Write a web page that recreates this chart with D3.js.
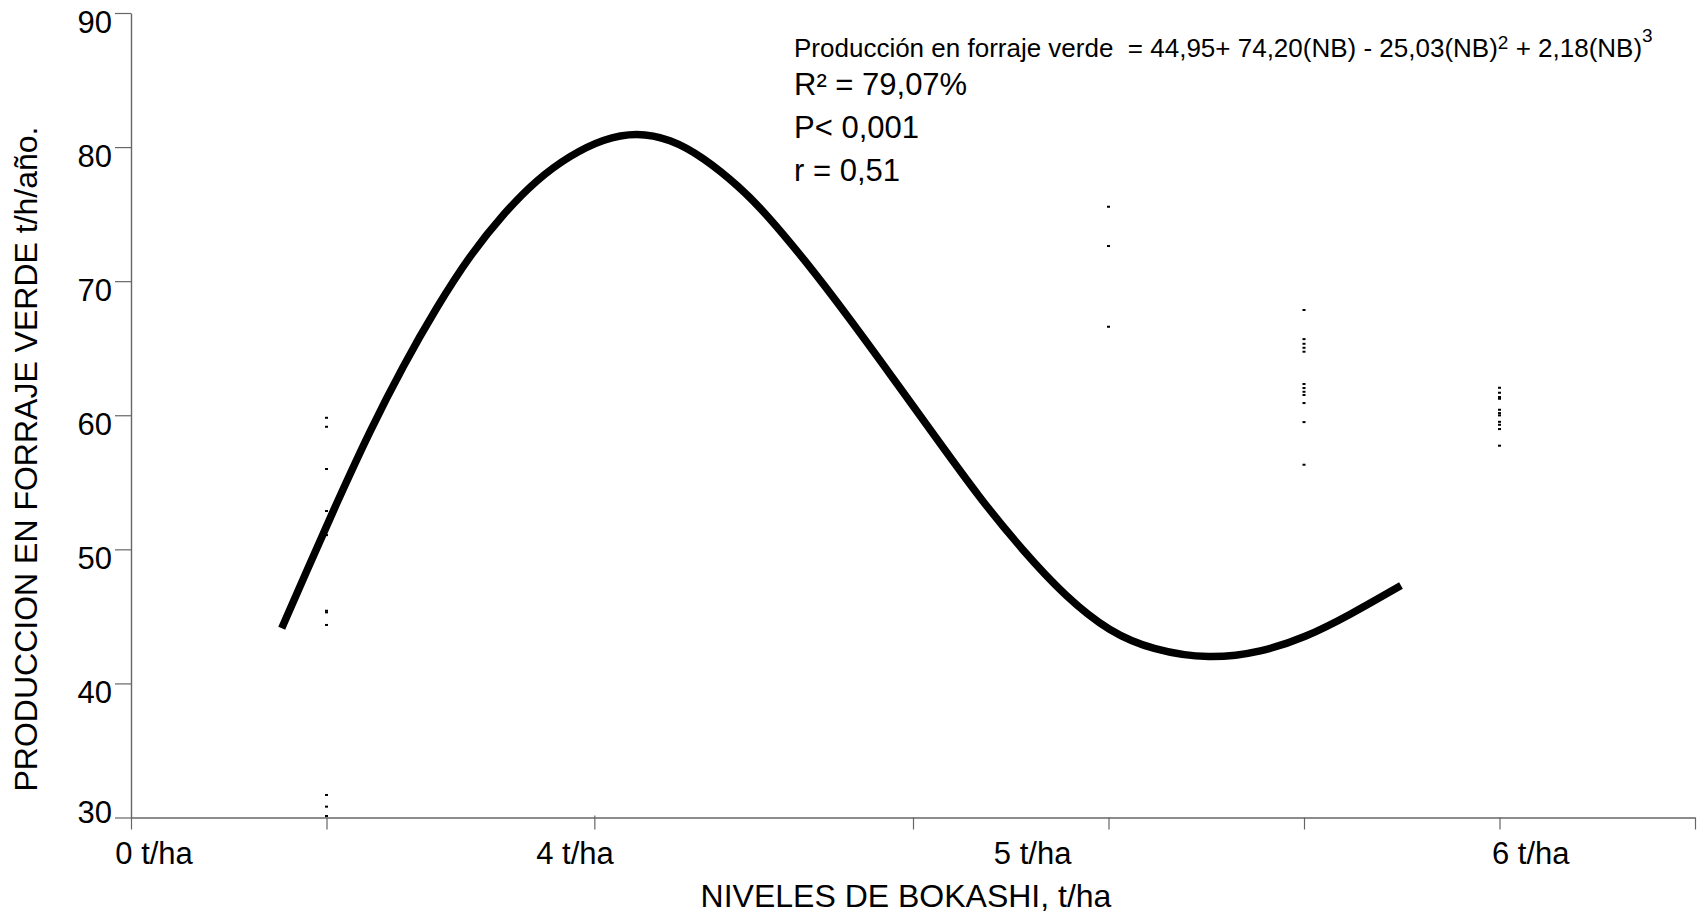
<!DOCTYPE html>
<html>
<head>
<meta charset="utf-8">
<script src="https://cdn.jsdelivr.net/npm/d3@7"></script>
<style>
  html, body { margin: 0; padding: 0; background: #fff; }
  svg { display: block; font-family: "Liberation Sans", Arial, sans-serif; }
</style>
</head>
<body>
<svg id="chart" width="1698" height="915"></svg>
<script>
// Axis positions (x is a position index along the axis; labels sit on their own marks)
const xTickVals = [0, 1, 2.37, 4, 5, 6, 7, 8];
const xLabelVals = [0.118, 2.271, 4.612, 7.160];
const xLabelText = ["0 t/ha", "4 t/ha", "5 t/ha", "6 t/ha"];
const yTickVals = [30, 40, 50, 60, 70, 80, 90];

// Observed forage yields per treatment column
const obsColumns = [1, 5, 6, 7];
const obsCol1 = [59.81, 59.14, 55.99, 52.86, 51.06, 45.42, 45.30, 44.36, 31.68, 30.81, 30.11];
const obsCol5 = [75.55, 72.62, 66.60];
const obsCol6 = [67.85, 65.68, 65.33, 65.03, 64.74, 62.33, 62.03, 61.75, 61.51, 60.91, 59.49, 56.31];
const obsCol7 = [62.05, 61.68, 61.36, 61.23, 60.41, 60.16, 59.99, 59.51, 59.29, 58.97, 57.73];

// Fitted response curve (control points of a smooth B-spline)
const curveX = [0.771, 0.881, 1.052, 1.223, 1.393, 1.564, 1.734, 1.904, 2.075, 2.246, 2.416, 2.587,
                2.757, 2.927, 3.115, 3.249, 3.449, 3.671, 3.894, 4.116, 4.338, 4.561, 4.783, 5.005,
                5.228, 5.517, 5.784, 6.006, 6.229, 6.496];
const curveY = [44.12, 47.80, 53.45, 58.88, 63.72, 68.08, 71.94, 75.02, 77.58, 79.38, 80.62, 81.10,
                80.62, 79.25, 77.01, 75.02, 71.54, 67.31, 62.84, 58.36, 53.88, 49.91, 46.43, 43.84,
                42.48, 41.80, 42.34, 43.42, 45.06, 47.30];

const svg = d3.select("#chart");

const x = d3.scaleLinear().domain([0, 8]).range([131, 1695]);
const y = d3.scaleLinear().domain([30, 90]).range([817.5, 13]);

const axisColor = "#666";

// X axis
const gx = svg.append("g")
  .attr("transform", `translate(0,${y(30)})`)
  .call(d3.axisBottom(x).tickValues(xTickVals).tickSize(12).tickSizeOuter(0).tickFormat(""));
gx.select(".domain").attr("stroke", axisColor).attr("stroke-width", 1.4);
gx.selectAll(".tick line").attr("stroke", axisColor).attr("stroke-width", 1.2)
  .attr("y1", d => d === 2.37 ? -2 : 0);

svg.append("g").selectAll("text")
  .data(xLabelVals)
  .join("text")
  .attr("x", d => x(d))
  .attr("y", 864)
  .attr("text-anchor", "middle")
  .attr("font-size", 31)
  .attr("fill", "#000")
  .text((d, i) => xLabelText[i]);

// Y axis
const gy = svg.append("g")
  .attr("transform", `translate(${x(0)},0)`)
  .call(d3.axisLeft(y).tickValues(yTickVals).tickSize(16).tickPadding(3).tickSizeOuter(0));
gy.select(".domain").attr("stroke", axisColor).attr("stroke-width", 1.4);
gy.selectAll(".tick line").attr("stroke", axisColor).attr("stroke-width", 1.2);
gy.selectAll(".tick text")
  .attr("font-size", 31)
  .attr("font-family", "Liberation Sans, Arial, sans-serif")
  .attr("fill", "#000")
  .attr("dy", d => d === 30 ? 4.5 : 19);

// Axis titles
svg.append("text")
  .attr("x", 906)
  .attr("y", 907)
  .attr("text-anchor", "middle")
  .attr("font-size", 32)
  .attr("fill", "#000")
  .text("NIVELES DE BOKASHI, t/ha");

svg.append("text")
  .attr("transform", "translate(37,459) rotate(-90)")
  .attr("text-anchor", "middle")
  .attr("font-size", 32)
  .attr("fill", "#000")
  .text("PRODUCCION EN FORRAJE VERDE t/h/año.");

// Observation marks
const obsData = [obsCol1, obsCol5, obsCol6, obsCol7].flatMap((vals, i) =>
  vals.map(v => ({ col: obsColumns[i], v })));

svg.append("g").selectAll("rect")
  .data(obsData)
  .join("rect")
  .attr("x", d => x(d.col) - 1.5)
  .attr("y", d => y(d.v) - 1)
  .attr("width", 3)
  .attr("height", 2)
  .attr("fill", "#000");

// Response curve
const line = d3.line()
  .x((d, i) => x(curveX[i]))
  .y(d => y(d))
  .curve(d3.curveBasis);

svg.append("path")
  .attr("d", line(curveY))
  .attr("fill", "none")
  .attr("stroke", "#000")
  .attr("stroke-width", 7.5)
  .attr("stroke-linecap", "butt");

// Regression summary
const eq = svg.append("text")
  .attr("x", 794)
  .attr("y", 57)
  .attr("font-size", 26)
  .attr("fill", "#000")
  .attr("xml:space", "preserve")
  .style("white-space", "pre");
eq.append("tspan").text("Producción en forraje verde  = 44,95+ 74,20(NB) - 25,03(NB)");
eq.append("tspan").attr("font-size", 19).attr("dy", -8).text("2");
eq.append("tspan").attr("dy", 8).text(" + 2,18(NB)");
eq.append("tspan").attr("font-size", 19).attr("dy", -15).text("3");

const stats = ["R² = 79,07%", "P< 0,001", "r = 0,51"];
const statsY = [95, 138, 181];
svg.append("g").selectAll("text")
  .data(stats)
  .join("text")
  .attr("x", 794)
  .attr("y", (d, i) => statsY[i])
  .attr("font-size", 31)
  .attr("fill", "#000")
  .text(d => d);
</script>
</body>
</html>
